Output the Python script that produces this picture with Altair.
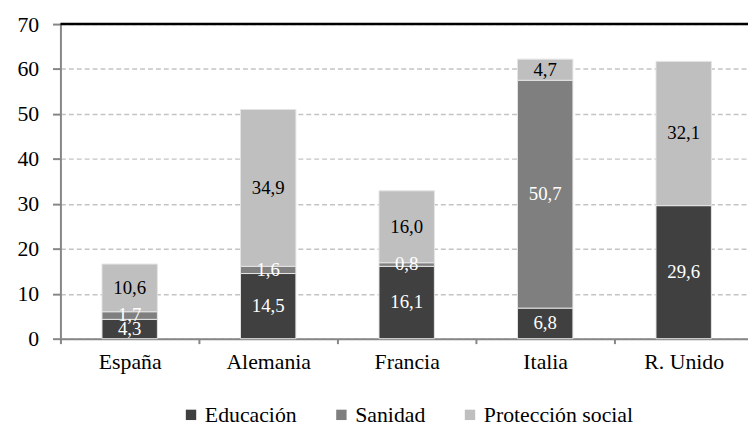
import altair as alt
import pandas as pd

paises = ["España", "Alemania", "Francia", "Italia", "R. Unido"]
series = ["Educación", "Sanidad", "Protección social"]
educacion = [4.3, 14.5, 16.1, 6.8, 29.6]
sanidad = [1.7, 1.6, 0.8, 50.7, None]
proteccion = [10.6, 34.9, 16.0, 4.7, 32.1]
colores = ["#404040", "#7f7f7f", "#bfbfbf"]
y_ticks = [0, 10, 20, 30, 40, 50, 60, 70]

rows = []
for i, p in enumerate(paises):
    for j, (s, vals) in enumerate(zip(series, [educacion, sanidad, proteccion])):
        v = vals[i]
        if v is None:
            continue
        rows.append({"pais": p, "serie": s, "orden": j, "valor": v})
df = pd.DataFrame(rows)

FONT = "Liberation Serif"

x_scale = alt.Scale(range=[0, 700], paddingInner=0, paddingOuter=0)
y_scale = alt.Scale(domain=[0, 70], nice=False)
y_axis = alt.Axis(values=y_ticks, title=None)

base = alt.Chart(df).transform_stack(
    stack="valor", groupby=["pais"], as_=["v0", "v1"],
    sort=[alt.SortField("orden", order="ascending")],
).transform_calculate(
    mid="(datum.v0 + datum.v1) / 2",
    etiqueta="replace(format(datum.valor, '.1f'), '.', ',')",
)

bars = base.mark_bar(size=56, stroke="#e4e4e4", strokeWidth=1).encode(
    x=alt.X("pais:N", sort=paises, title=None, scale=x_scale),
    y=alt.Y("v0:Q", scale=y_scale, axis=y_axis),
    y2="v1:Q",
    color=alt.Color(
        "serie:N",
        scale=alt.Scale(domain=series, range=colores),
        legend=alt.Legend(
            title=None, orient="none", direction="horizontal",
            legendX=121, legendY=384,
        ),
    ),
)

labels = base.mark_text(fontSize=19, baseline="middle", align="center").encode(
    x=alt.X("pais:N", sort=paises, title=None),
    y=alt.Y("mid:Q", axis=y_axis),
    text="etiqueta:N",
    color=alt.when(alt.datum.serie == "Protección social")
    .then(alt.value("#000"))
    .otherwise(alt.value("#fff")),
)

top = alt.Chart(pd.DataFrame({"y": [70]})).mark_rule(color="#000", strokeWidth=2.5).encode(
    y=alt.Y("y:Q", axis=y_axis),
    x=alt.value(0),
    x2=alt.value(700),
)

chart = alt.layer(bars, labels, top).properties(
    width=695,
    height=318,
    autosize=alt.AutoSizeParams(type="none"),
    padding={"left": 53, "top": 14, "right": 0, "bottom": 86},
).configure(
    font=FONT,
).configure_view(
    stroke=None,
).configure_axisX(
    labelAngle=0, labelFont=FONT, labelFontSize=22, labelColor="#000",
    labelPadding=8, tickBand="extent", tickColor="#868686", tickSize=5,
    tickWidth=2, domainColor="#868686", domainWidth=2, grid=False,
).configure_axisY(
    labelFont=FONT, labelFontSize=22, labelColor="#000",
    labelPadding=14, tickColor="#868686", tickSize=8, tickWidth=2,
    domainColor="#868686", domainWidth=2, gridColor="#c4c4c4",
    gridDash=[5, 3], gridWidth=1.5,
).configure_legend(
    symbolType="square", symbolSize=110, symbolStrokeWidth=0,
    labelFont=FONT, labelFontSize=22, labelColor="#000", labelOffset=3,
    columnPadding=34,
)

chart.save("out.html", embed_options={"renderer": "svg", "actions": False})
